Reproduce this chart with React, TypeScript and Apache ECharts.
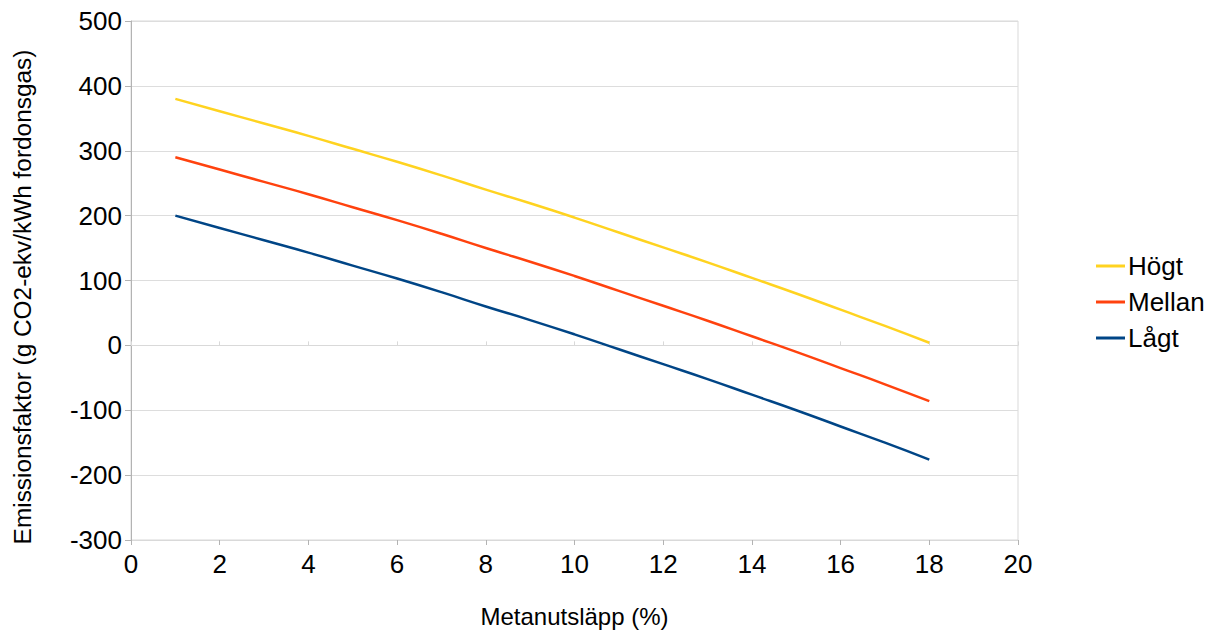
import React, { useEffect, useRef } from "react";
import * as echarts from "echarts";

const xValues = [1, 2, 3, 4, 5, 6, 7, 8, 9, 10, 11, 12, 13, 14, 15, 16, 17, 18];
const hogt = [380, 361, 342, 323, 303, 283, 262, 240, 219, 197, 174, 151, 128, 104, 80, 55, 30, 4];
const mellan = [290, 271, 252, 233, 213, 193, 172, 150, 129, 107, 84, 61, 38, 14, -10, -35, -60, -86];
const lagt = [200, 181, 162, 143, 123, 103, 82, 60, 39, 17, -6, -29, -52, -76, -100, -125, -150, -176];
const seriesNames = ["Högt", "Mellan", "Lågt"];
const colors = ["#ffd320", "#ff420e", "#004586"];
const yTitle = "Emissionsfaktor (g CO2-ekv/kWh fordonsgas)";
const xTitle = "Metanutsläpp (%)";

const FONT = "'Liberation Sans', Arial, sans-serif";

export default function App() {
  const ref = useRef<HTMLDivElement>(null);
  useEffect(() => {
    if (!ref.current) return;
    const chart = echarts.init(ref.current, null, { renderer: "svg" });
    const pairs = (ys: number[]) => xValues.map((x, i) => [x, ys[i]]);
    const data = [hogt, mellan, lagt];
    chart.setOption({
      animation: false,
      backgroundColor: "#ffffff",
      textStyle: { fontFamily: FONT },
      grid: {
        left: 131,
        right: 200,
        top: 21,
        bottom: 91,
        show: true,
        borderColor: "#d9d9d9",
        borderWidth: 1,
      },
      graphic: [
        {
          type: "text",
          x: 22,
          y: 297,
          rotation: Math.PI / 2,
          style: {
            text: yTitle,
            fontSize: 24.4,
            fontFamily: FONT,
            fill: "#000",
            align: "center",
            verticalAlign: "middle",
          },
        },
      ],
      legend: {
        orient: "vertical",
        left: 1091,
        top: 248,
        itemWidth: 29,
        itemHeight: 3,
        itemGap: 10,
        icon: "rect",
        textStyle: { fontSize: 26, color: "#000", fontFamily: FONT, padding: [0, 0, 0, -2] },
        data: seriesNames,
      },
      xAxis: [
        {
          type: "value",
          min: 0,
          max: 20,
          interval: 2,
          position: "bottom",
          name: xTitle,
          nameLocation: "middle",
          nameGap: 64,
          nameTextStyle: { fontSize: 24, color: "#000", fontFamily: FONT },
          axisLine: { show: true, onZero: false, lineStyle: { color: "#d9d9d9" } },
          axisTick: { show: true, length: 5, lineStyle: { color: "#b3b3b3" } },
          axisLabel: { fontSize: 26, color: "#000", margin: 11, fontFamily: FONT },
          splitLine: { show: false },
        },
        {
          type: "value",
          min: 0,
          max: 20,
          interval: 2,
          position: "bottom",
          axisLine: { show: true, onZero: true, lineStyle: { color: "#d9d9d9" } },
          axisTick: { show: true, inside: true, length: 4, lineStyle: { color: "#d9d9d9" } },
          axisLabel: { show: false },
          splitLine: { show: false },
        },
      ],
      yAxis: {
        type: "value",
        min: -300,
        max: 500,
        interval: 100,
        axisLine: { show: true, lineStyle: { color: "#b3b3b3" } },
        axisTick: { show: true, length: 6, lineStyle: { color: "#b3b3b3" } },
        axisLabel: { fontSize: 26, color: "#000", margin: 9, fontFamily: FONT },
        splitLine: { show: true, lineStyle: { color: "#dddddd", width: 1 } },
      },
      series: seriesNames.map((name, i) => ({
        name,
        type: "line",
        xAxisIndex: 0,
        data: pairs(data[i]),
        smooth: true,
        showSymbol: false,
        symbol: "none",
        color: colors[i],
        lineStyle: { width: 2.5, color: colors[i] },
      })),
    });
    return () => chart.dispose();
  }, []);
  return (
    <div
      ref={ref}
      style={{ position: "fixed", left: 0, top: 0, width: 1218, height: 633 }}
    />
  );
}
